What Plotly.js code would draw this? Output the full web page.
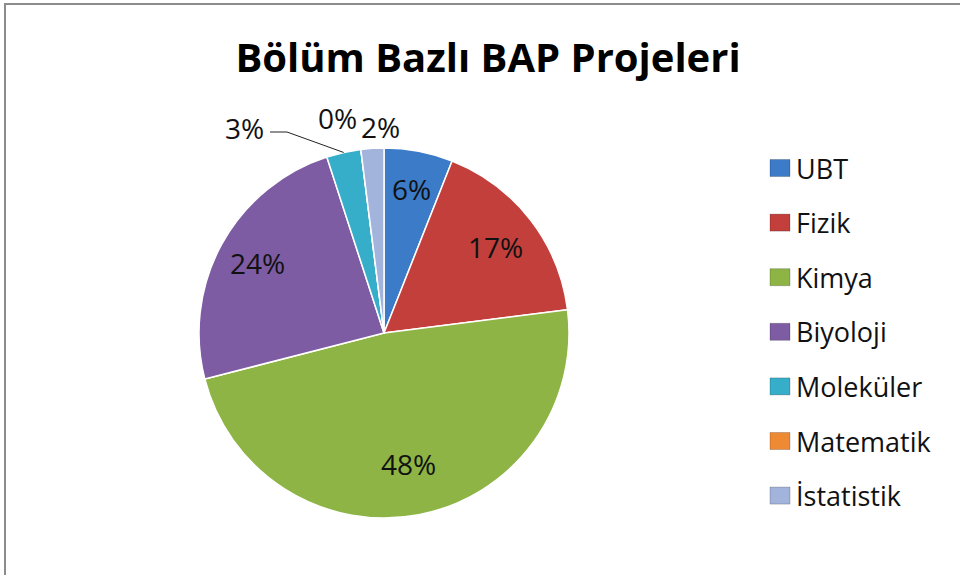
<!DOCTYPE html>
<html>
<head>
<meta charset="utf-8">
<script src="https://cdn.plot.ly/plotly-3.0.1.min.js"></script>
<style>
html,body{margin:0;padding:0;background:#fff;}
#chart{width:960px;height:575px;}
#frame{position:absolute;left:4px;top:3px;width:960px;height:580px;border-top:2px solid #8c8c8c;border-left:2px solid #8c8c8c;pointer-events:none;}
</style>
</head>
<body>
<div id="chart"></div>
<div id="frame"></div>
<script>
const titleText = 'Bölüm Bazlı BAP Projeleri';
const labels = ['UBT', 'Fizik', 'Kimya', 'Biyoloji', 'Moleküler', 'Matematik', 'İstatistik'];
const values = [6, 17, 48, 24, 3, 0, 2];
const colors = ['#3b7bc8', '#c23f3c', '#8db444', '#7e5ca3', '#36aeca', '#ef8a34', '#a2b3dc'];
const labelInside = [true, true, true, true, false, false, false];

const W = 960, H = 575;
const cx = 384, cy = 333, r = 185;
const FONT = 'Open Sans, sans-serif';

const trace = {
  type: 'pie',
  labels: labels,
  values: values,
  sort: false,
  direction: 'clockwise',
  rotation: 0,
  textinfo: 'none',
  marker: {colors: colors, line: {color: '#ffffff', width: 1.5}},
  domain: {x: [(cx - r) / W, (cx + r) / W], y: [(H - cy - r) / H, (H - cy + r) / H]},
  hoverinfo: 'label+percent',
  showlegend: false
};

const shapes = [], annotations = [];
const px = x => x / W, py = y => 1 - y / H;

// data labels (Excel-style placement along each slice's mid angle)
const total = values.reduce((a, b) => a + b, 0);
// radial placement factor for inside labels, hand placement for crowded outside labels
const insideRadius = {0: 0.79, 1: 0.76, 2: 0.72, 3: 0.78};
const outsidePos = {4: [-139, -205], 5: [-47, -215], 6: [-4, -206]};
let cum = 0;
values.forEach((v, i) => {
  const mid = (cum + v / 2) / total * 2 * Math.PI;
  cum += v;
  const pct = Math.round(v / total * 100) + '%';
  let lx, ly;
  if (labelInside[i]) {
    const rr = insideRadius[i] * r;
    lx = cx + rr * Math.sin(mid); ly = cy - rr * Math.cos(mid);
  } else {
    lx = cx + outsidePos[i][0]; ly = cy + outsidePos[i][1];
  }
  annotations.push({
    xref: 'paper', yref: 'paper', x: px(lx), y: py(ly),
    xanchor: 'center', yanchor: 'middle', showarrow: false, text: pct,
    font: {family: FONT, size: 28, color: '#111'}
  });
  if (i === 4) {
    // leader line from the label to the slice edge
    const ex = cx + r * Math.sin(mid), ey = cy - r * Math.cos(mid);
    const sx = lx + 25, sy = ly + 4;
    shapes.push({
      type: 'path', xref: 'paper', yref: 'paper',
      path: 'M ' + px(sx) + ' ' + py(sy) + ' L ' + px(sx + 17) + ' ' + py(sy) + ' L ' + px(ex) + ' ' + py(ey),
      line: {color: '#222', width: 1}
    });
  }
});

// manual legend built from the label/color arrays
const legendX = 770, legendY0 = 168, legendStep = 54.6, swW = 20, swH = 17;
labels.forEach((lab, i) => {
  const yc = legendY0 + i * legendStep;
  shapes.push({
    type: 'rect', xref: 'paper', yref: 'paper',
    x0: px(legendX), x1: px(legendX + swW),
    y0: py(yc + swH / 2), y1: py(yc - swH / 2),
    fillcolor: colors[i], line: {color: 'rgba(0,0,0,0.25)', width: 0.8}
  });
  annotations.push({
    xref: 'paper', yref: 'paper', x: px(legendX + swW + 4), y: py(yc),
    xanchor: 'left', yanchor: 'middle', showarrow: false, text: lab,
    font: {family: FONT, size: 27, color: '#111'}
  });
});

const layout = {
  width: W, height: H,
  margin: {l: 0, r: 0, t: 0, b: 0},
  paper_bgcolor: '#ffffff',
  title: {
    text: '<b>' + titleText + '</b>',
    x: px(488), xanchor: 'center', y: py(58), yanchor: 'middle',
    font: {family: FONT, size: 40, color: '#000'}
  },
  showlegend: false,
  shapes: shapes,
  annotations: annotations
};

Plotly.newPlot('chart', [trace], layout, {displayModeBar: false});
</script>
</body>
</html>
